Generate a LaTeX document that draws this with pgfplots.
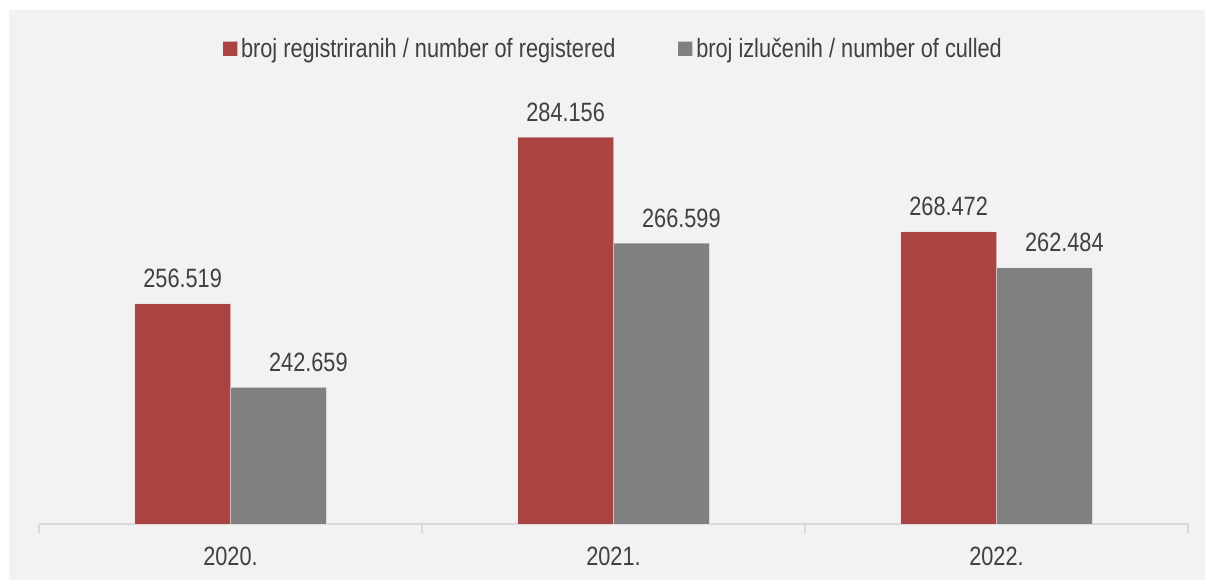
\documentclass[border=0pt]{standalone}
\usepackage{fontspec}
\setmainfont{Liberation Sans}[FakeStretch=0.82]
\usepackage{pgfplots}
\pgfplotsset{compat=1.18}

\definecolor{regred}{RGB}{169,68,66}
\definecolor{culgray}{RGB}{128,128,128}
\definecolor{panel}{RGB}{242,242,242}
\definecolor{txt}{RGB}{64,64,64}
\definecolor{axisgray}{RGB}{217,217,217}

\newcommand{\chartfont}{\fontsize{26.5pt}{30pt}\selectfont}

\begin{document}
\begin{tikzpicture}[font=\chartfont]
\useasboundingbox (0,0) rectangle (1205pt,-583pt);
\fill[white] (0,0) rectangle (1205pt,-583pt);
\fill[panel] (9pt,-10pt) rectangle (1205pt,-580pt);

\begin{axis}[
    at={(39pt,-524pt)}, anchor=south west,
    scale only axis,
    width=1149pt, height=422pt,
    ybar=0pt, bar width=0.25,
    xmin=-0.5, xmax=2.5,
    ymin=220000, ymax=290000,
    axis x line*=bottom,
    axis y line=none,
    x axis line style={axisgray, line width=1.6pt},
    xtick={0,1,2},
    xticklabels={2020.,2021.,2022.},
    major tick length=0pt,
    minor xtick={-0.5,0.5,1.5,2.5},
    minor tick length=9pt,
    tick align=outside,
    minor tick style={axisgray, line width=1.6pt},
    xticklabel style={font=\chartfont, text=txt, yshift=-19pt},
    point meta=explicit symbolic,
    nodes near coords,
    every node near coord/.append style={font=\chartfont, text=txt, anchor=base, yshift=16pt},
    legend columns=2,
    legend style={
        at={(0.5005,1.126)}, anchor=center,
        draw=none, fill=none,
        font=\chartfont, text=txt,
        /tikz/every even column/.append style={column sep=59pt},
        nodes={inner sep=3.5pt},
    },
]
\addplot[fill=regred, draw=white, draw opacity=0.35, line width=0.8pt,
    legend image code/.code={\fill[regred] (0pt,-7pt) rectangle (14pt,7pt);}]
    coordinates {(0,256519) [256.519] (1,284156) [284.156] (2,268472) [268.472]};
\addlegendentry{broj registriranih / number of registered}
\addplot[fill=culgray, draw=white, draw opacity=0.35, line width=0.8pt,
    every node near coord/.append style={xshift=20pt},
    legend image code/.code={\fill[culgray] (0pt,-7pt) rectangle (14pt,7pt);}]
    coordinates {(0,242659) [\hspace*{20pt}242.659] (1,266599) [266.599] (2,262484) [262.484]};
\addlegendentry{broj izlučenih / number of culled}
\end{axis}
\end{tikzpicture}
\end{document}
